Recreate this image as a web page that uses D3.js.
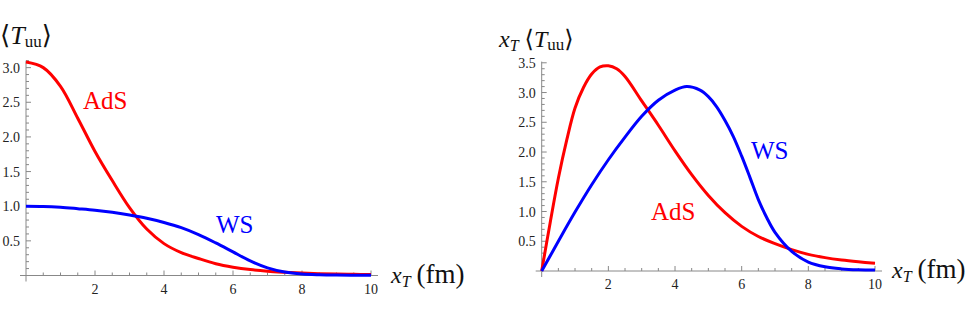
<!DOCTYPE html>
<html>
<head>
<meta charset="utf-8">
<script src="https://cdn.jsdelivr.net/npm/d3@7"></script>
<style>
  body { margin: 0; background: #fff; }
</style>
</head>
<body>
<div id="canvas"></div>
<script>
"use strict"

/* Data: left panel <T_uu>, right panel x_T <T_uu> */
let leftX = [0, 0.5, 1, 1.5, 2, 2.5, 3, 3.5, 4, 4.5, 5, 5.5, 6, 6.5, 7, 7.5, 8, 8.5, 9, 9.5, 10];
let leftAdS = [3.08, 3.0, 2.73, 2.27, 1.79, 1.37, 0.98, 0.67, 0.46, 0.33, 0.245, 0.17, 0.12, 0.085, 0.062, 0.047, 0.035, 0.027, 0.021, 0.017, 0.013];
let leftWS = [1.0, 0.997, 0.985, 0.965, 0.943, 0.912, 0.872, 0.825, 0.765, 0.69, 0.59, 0.47, 0.34, 0.21, 0.11, 0.05, 0.022, 0.011, 0.006, 0.004, 0.003];

let rightAdSX = [0, 0.25, 0.5, 0.75, 1, 1.25, 1.5, 1.75, 2, 2.25, 2.5, 3, 3.5, 4, 4.5, 5, 5.5, 6, 6.5, 7, 7.5, 8, 8.5, 9, 9.5, 10];
let rightAdS = [0, 0.8, 1.56, 2.2, 2.74, 3.08, 3.31, 3.43, 3.45, 3.4, 3.27, 2.86, 2.45, 2.02, 1.62, 1.27, 0.98, 0.75, 0.58, 0.46, 0.36, 0.28, 0.225, 0.185, 0.155, 0.13];
let rightWSX = [0, 0.5, 1, 1.5, 2, 2.5, 3, 3.5, 4, 4.35, 4.75, 5, 5.25, 5.5, 5.75, 6, 6.25, 6.5, 6.75, 7, 7.5, 8, 8.5, 9, 9.5, 10];
let rightWS = [0, 0.5, 0.99, 1.45, 1.87, 2.25, 2.6, 2.87, 3.04, 3.1, 3.04, 2.93, 2.76, 2.53, 2.26, 1.93, 1.57, 1.2, 0.9, 0.65, 0.33, 0.15, 0.07, 0.035, 0.02, 0.015];

let xTicks = [2, 4, 6, 8, 10];
let leftYTicks = [0.5, 1.0, 1.5, 2.0, 2.5, 3.0];
let rightYTicks = [0.5, 1.0, 1.5, 2.0, 2.5, 3.0, 3.5];

/* Drawing config */
let svgWidth = 969;
let svgHeight = 318;
let axisColor = "#888";
let serif = "'Liberation Serif', 'DejaVu Serif', serif";

let svg = d3.select("#canvas")
    .append("svg")
    .attr("width", svgWidth)
    .attr("height", svgHeight)
    .attr("font-family", serif)
    .style("font-family", serif);

function drawPanel(p) {
    let xScale = d3.scaleLinear().domain([0, 10]).range([p.x0, p.x1]);
    let yScale = d3.scaleLinear().domain([0, p.yMax]).range([p.y0, p.y1]);
    let g = svg.append("g");

    // axis lines, a bit past the origin like Mathematica
    g.append("line")
        .attr("x1", xScale(0) - 6).attr("x2", xScale(10) + 7)
        .attr("y1", yScale(0)).attr("y2", yScale(0))
        .attr("stroke", axisColor).attr("stroke-width", 1);
    g.append("line")
        .attr("x1", xScale(0)).attr("x2", xScale(0))
        .attr("y1", yScale(0) + 6).attr("y2", yScale(p.yMax))
        .attr("stroke", axisColor).attr("stroke-width", 1);

    // x ticks, pointing up
    let xMinor = d3.range(0.5, 10.01, 0.5);
    g.selectAll(".xt").data(xMinor).join("line")
        .attr("x1", d => xScale(d)).attr("x2", d => xScale(d))
        .attr("y1", yScale(0))
        .attr("y2", d => yScale(0) - (xTicks.includes(d) ? 5 : 3))
        .attr("stroke", axisColor);
    g.selectAll(".xl").data(xTicks).join("text")
        .attr("x", d => xScale(d))
        .attr("y", yScale(0) + 18)
        .attr("text-anchor", "middle")
        .attr("font-size", 14)
        .attr("fill", "#222")
        .text(d => d);

    // y ticks, pointing right
    let yMinor = d3.range(0.1, p.yMax + 0.001, 0.1);
    g.selectAll(".yt").data(yMinor).join("line")
        .attr("x1", xScale(0))
        .attr("x2", d => xScale(0) + (Math.abs(d * 2 - Math.round(d * 2)) < 0.01 ? 5 : 3))
        .attr("y1", d => yScale(d)).attr("y2", d => yScale(d))
        .attr("stroke", axisColor);
    g.selectAll(".yl").data(p.yTicks).join("text")
        .attr("x", xScale(0) - 6)
        .attr("y", d => yScale(d) + 5)
        .attr("text-anchor", "end")
        .attr("font-size", 14)
        .attr("fill", "#222")
        .text(d => d.toFixed(1));

    // curves
    let line = d3.line()
        .x(d => xScale(d[0]))
        .y(d => yScale(d[1]))
        .curve(d3.curveCatmullRom.alpha(0.5));
    p.series.forEach(s => {
        g.append("path")
            .datum(d3.zip(s.x, s.y))
            .attr("d", line)
            .attr("fill", "none")
            .attr("stroke", s.color)
            .attr("stroke-width", 3);
        g.append("text")
            .attr("x", s.lx).attr("y", s.ly)
            .attr("font-size", 25)
            .attr("fill", s.color)
            .text(s.name);
    });

    // x axis label: x_T (fm)
    let xl = g.append("text")
        .attr("x", p.xLabelX).attr("y", p.xLabelY)
        .attr("font-size", 24)
        .attr("fill", "#111");
    xl.append("tspan").attr("font-style", "italic").text("x");
    xl.append("tspan").attr("font-style", "italic").attr("font-size", 16).attr("dy", 4).text("T");
    xl.append("tspan").attr("dy", -4).attr("dx", 6).attr("font-size", 27).text("(fm)");

    // y axis label
    let yl = g.append("text")
        .attr("x", p.yLabelX).attr("y", p.yLabelY)
        .attr("font-size", p.withX ? 24 : 26)
        .attr("fill", "#111");
    if (p.withX) {
        yl.append("tspan").attr("font-style", "italic").text("x");
        yl.append("tspan").attr("font-style", "italic").attr("font-size", 16).attr("dy", 4).text("T");
        yl.append("tspan").attr("dy", -4).attr("dx", 6).text("\u27E8");
    } else {
        yl.append("tspan").text("\u27E8");
    }
    yl.append("tspan").attr("font-style", "italic").text("T");
    yl.append("tspan").attr("font-size", 17).attr("dy", 3).text("uu");
    yl.append("tspan").attr("dy", -3).text("\u27E9");
}

drawPanel({
    x0: 26, x1: 371, y0: 275.5, y1: 60.7, yMax: 3.1,
    yTicks: leftYTicks,
    xLabelX: 391, xLabelY: 283,
    yLabelX: 0, yLabelY: 44, withX: false,
    series: [
        { name: "AdS", x: leftX, y: leftAdS, color: "#ff0000", lx: 83, ly: 109 },
        { name: "WS", x: leftX, y: leftWS, color: "#0000ff", lx: 216, ly: 233 }
    ]
});

drawPanel({
    x0: 541.7, x1: 875, y0: 271, y1: 61.6, yMax: 3.52,
    yTicks: rightYTicks,
    xLabelX: 892, xLabelY: 278,
    yLabelX: 499, yLabelY: 47, withX: true,
    series: [
        { name: "AdS", x: rightAdSX, y: rightAdS, color: "#ff0000", lx: 651, ly: 220 },
        { name: "WS", x: rightWSX, y: rightWS, color: "#0000ff", lx: 751, ly: 159 }
    ]
});
</script>
</body>
</html>
